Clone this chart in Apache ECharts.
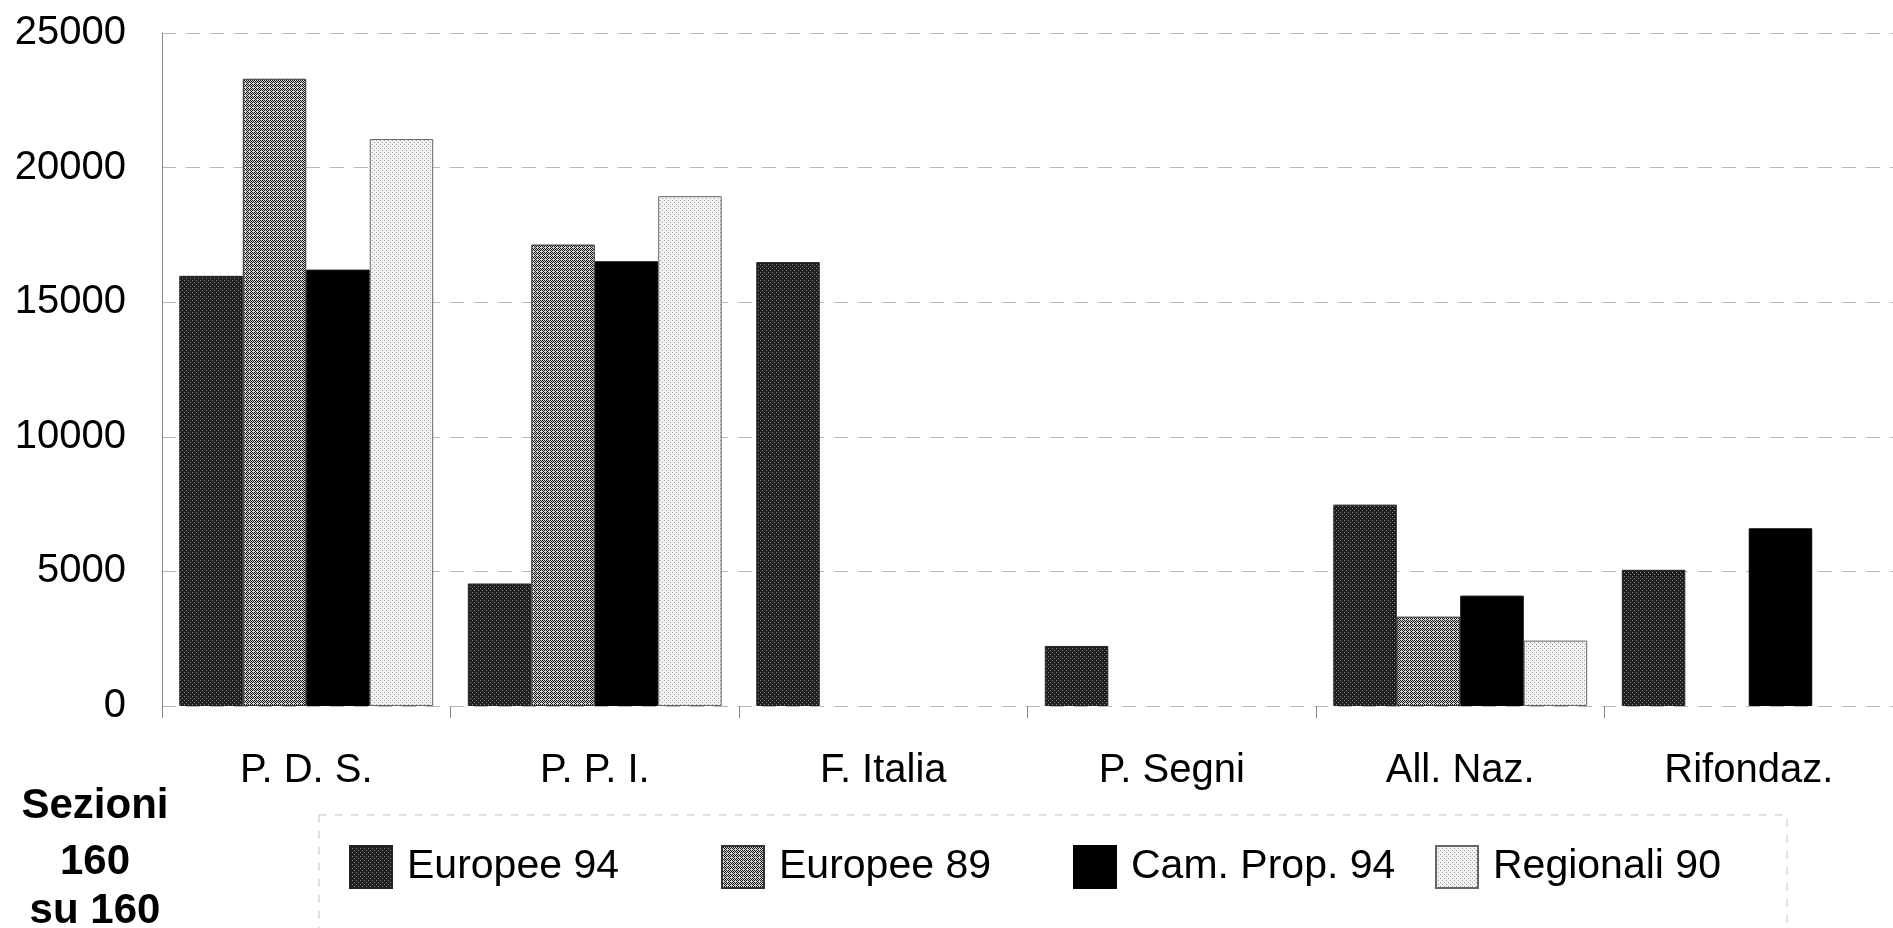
<!DOCTYPE html>
<html>
<head>
<meta charset="utf-8">
<script src="https://cdn.jsdelivr.net/npm/echarts@6/dist/echarts.min.js"></script>
<style>
  html, body { margin: 0; padding: 0; background: #ffffff; }
  #chart { width: 1893px; height: 928px; }
</style>
</head>
<body>
<div id="chart"></div>
<script>
// ---- data ----
const categories = ['P. D. S.', 'P. P. I.', 'F. Italia', 'P. Segni', 'All. Naz.', 'Rifondaz.'];
const seriesNames = ['Europee 94', 'Europee 89', 'Cam. Prop. 94', 'Regionali 90'];
const europee94 = [15980, 4550, 16490, 2230, 7480, 5060];
const europee89 = [23300, 17140, null, null, 3320, null];
const camProp94 = [16210, 16520, null, null, 4100, 6600];
const regionali90 = [21060, 18940, null, null, 2430, null];
const yMin = 0, yMax = 25000, yStep = 5000;
const sideNote = ['Sezioni', '160', 'su 160'];

// ---- halftone-like fills ----
function pattern(bg, fg, pts) {
  const c = document.createElement('canvas');
  c.width = 4; c.height = 4;
  const g = c.getContext('2d');
  g.fillStyle = bg; g.fillRect(0, 0, 4, 4);
  g.fillStyle = fg;
  pts.forEach(p => g.fillRect(p[0], p[1], 1, 1));
  return { image: c, repeat: 'repeat' };
}
const fills = [
  pattern('#1f1f1f', '#8c8c8c', [[0, 0], [2, 2]]),
  pattern('#d0d0d0', '#1a1a1a', [[0, 0], [1, 1], [2, 2], [3, 3], [2, 0], [0, 2], [3, 1]]),
  pattern('#000000', '#000000', []),
  pattern('#f2f2f2', '#a0a0a0', [[0, 0], [2, 2]])
];
const borders = ['#222', '#333', '#000', '#666'];
const seriesData = [europee94, europee89, camProp94, regionali90];
const legendLefts = [349, 721, 1073, 1435];

const FONT = '"Liberation Sans", Arial, sans-serif';

const chart = echarts.init(document.getElementById('chart'), null, { renderer: 'canvas' });
chart.setOption({
  animation: false,
  backgroundColor: '#ffffff',
  grid: { left: 162, top: 33, width: 1758, height: 673, containLabel: false },
  xAxis: {
    type: 'category',
    data: categories,
    axisLine: { show: false },
    axisTick: { show: true, length: 12, lineStyle: { color: '#888', width: 1 } },
    axisLabel: { margin: 45, color: '#000', fontSize: 40, fontFamily: FONT },
    splitLine: { show: false }
  },
  yAxis: {
    type: 'value',
    min: yMin, max: yMax, interval: yStep,
    axisLine: { show: true, lineStyle: { color: '#888', width: 1 } },
    axisTick: { show: false },
    axisLabel: { margin: 36, color: '#000', fontSize: 40, fontFamily: FONT, formatter: v => String(v) },
    splitLine: { show: true, lineStyle: { color: '#b8b8b8', width: 1, type: [14, 10] } }
  },
  legend: seriesNames.map((name, i) => ({
    data: [name],
    left: legendLefts[i], top: 845,
    padding: 0,
    itemWidth: 42, itemHeight: 42,
    icon: 'rect',
    selectedMode: false,
    textStyle: { fontSize: 41, fontFamily: FONT, color: '#000', padding: [0, 0, 0, 10] }
  })),
  series: seriesNames.map((name, i) => ({
    name: name,
    type: 'bar',
    data: seriesData[i],
    barGap: '0%',
    barCategoryGap: '12%',
    itemStyle: { color: fills[i], borderColor: borders[i], borderWidth: 1 },
    emphasis: { disabled: true }
  })),
  graphic: [
    {
      type: 'rect',
      shape: { x: 319, y: 815, width: 1468, height: 200 },
      style: { fill: 'none', stroke: '#c4c4c4', lineWidth: 1, lineDash: [8, 8] },
      silent: true
    }
  ].concat(sideNote.map((t, i) => ({
    type: 'text',
    x: 95, y: [806, 862, 911][i],
    style: { text: t, fill: '#000', font: 'bold 42px ' + FONT, textAlign: 'center', textVerticalAlign: 'middle' },
    silent: true
  })))
});
</script>
</body>
</html>
